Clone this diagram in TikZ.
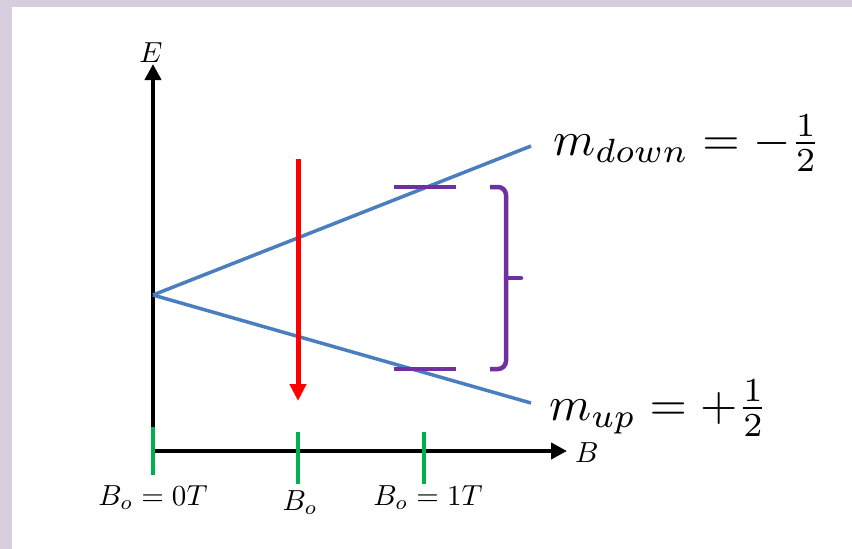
\documentclass[tikz,border=0pt]{standalone}
\usepackage{amsmath}
\usepackage{graphicx}
\usetikzlibrary{arrows.meta}
\definecolor{bgc}{RGB}{214,206,220}
\definecolor{pblue}{RGB}{74,126,190}
\definecolor{pgreen}{RGB}{0,176,80}
\definecolor{ppurple}{RGB}{112,48,160}
\newcommand{\smlab}[1]{\scalebox{2.9}{$#1$}}
\newcommand{\biglab}[1]{\scalebox{4.8}{$#1$}}
\tikzset{
  axis/.style={line width=4pt, black, line join=miter},
  level/.style={line width=3.5pt, pblue},
  tickmark/.style={line width=4.5pt, pgreen},
  purp/.style={line width=4.5pt, ppurple},
  lab/.style={inner sep=0pt}
}
\begin{document}
\begin{tikzpicture}[x=1pt,y=-1pt]
\fill[bgc] (0,0) rectangle (852,549);
\fill[white] (12,7) rectangle (852,549);
\useasboundingbox (0,0) rectangle (852,549);

% coordinates
\coordinate (O) at (153,451);
\coordinate (Etip) at (153,64);
\coordinate (Btip) at (567,451);
\coordinate (V) at (153,295);
\coordinate (Dn) at (531,146);
\coordinate (Up) at (531,403);
\coordinate (Rtop) at (298,159);
\coordinate (Rbot) at (298,401);

% axes
\draw[axis, {Triangle[length=16pt,width=16pt]}-{Triangle[length=16pt,width=16pt]}] (Btip) -- (O) -- (Etip);

% energy levels
\draw[level] (V) -- (Dn);
\draw[level] (V) -- (Up);

% red arrow
\draw[line width=5pt, red, -{Triangle[length=17pt,width=16pt]}] (Rtop) -- (Rbot);

% green ticks
\coordinate (t1a) at (153,427); \coordinate (t1b) at (153,475);
\coordinate (t2a) at (298,432); \coordinate (t2b) at (298,484);
\coordinate (t3a) at (424,432); \coordinate (t3b) at (424,484);
\draw[tickmark] (t1a) -- (t1b);
\draw[tickmark] (t2a) -- (t2b);
\draw[tickmark] (t3a) -- (t3b);

% purple bars and brace
\coordinate (b1a) at (394,187); \coordinate (b1b) at (456,187);
\coordinate (b2a) at (394,369); \coordinate (b2b) at (456,369);
\draw[purp] (b1a) -- (b1b);
\draw[purp] (b2a) -- (b2b);
\coordinate (brT) at (490,187);
\coordinate (brTc) at (506,187);
\coordinate (brM) at (506,278);
\coordinate (brTick) at (521,278);
\coordinate (brBc) at (506,369);
\coordinate (brB) at (490,369);
\draw[purp, rounded corners=8pt] (brT) -- (brTc) -- (brM);
\draw[purp, rounded corners=8pt] (brB) -- (brBc) -- (brM);
\draw[purp, line cap=round] (brM) -- (brTick);

% labels
\node[lab, anchor=base] (Elab) at (151,62) {\smlab{E}};
\node[lab, anchor=base west] (Blab) at (575,462) {\smlab{B}};
\node[lab, anchor=base] (l1) at (153,505) {\smlab{B_o = 0T}};
\node[lab, anchor=base] (l2) at (300,510) {\smlab{B_o}};
\node[lab, anchor=base] (l3) at (428,505) {\smlab{B_o = 1T}};
\node[lab, anchor=base west] (mdown) at (553,155) {\biglab{m_{down} = -\frac{1}{2}}};
\node[lab, anchor=base west] (mup) at (549,420) {\biglab{m_{up} = +\frac{1}{2}}};
\end{tikzpicture}
\end{document}
